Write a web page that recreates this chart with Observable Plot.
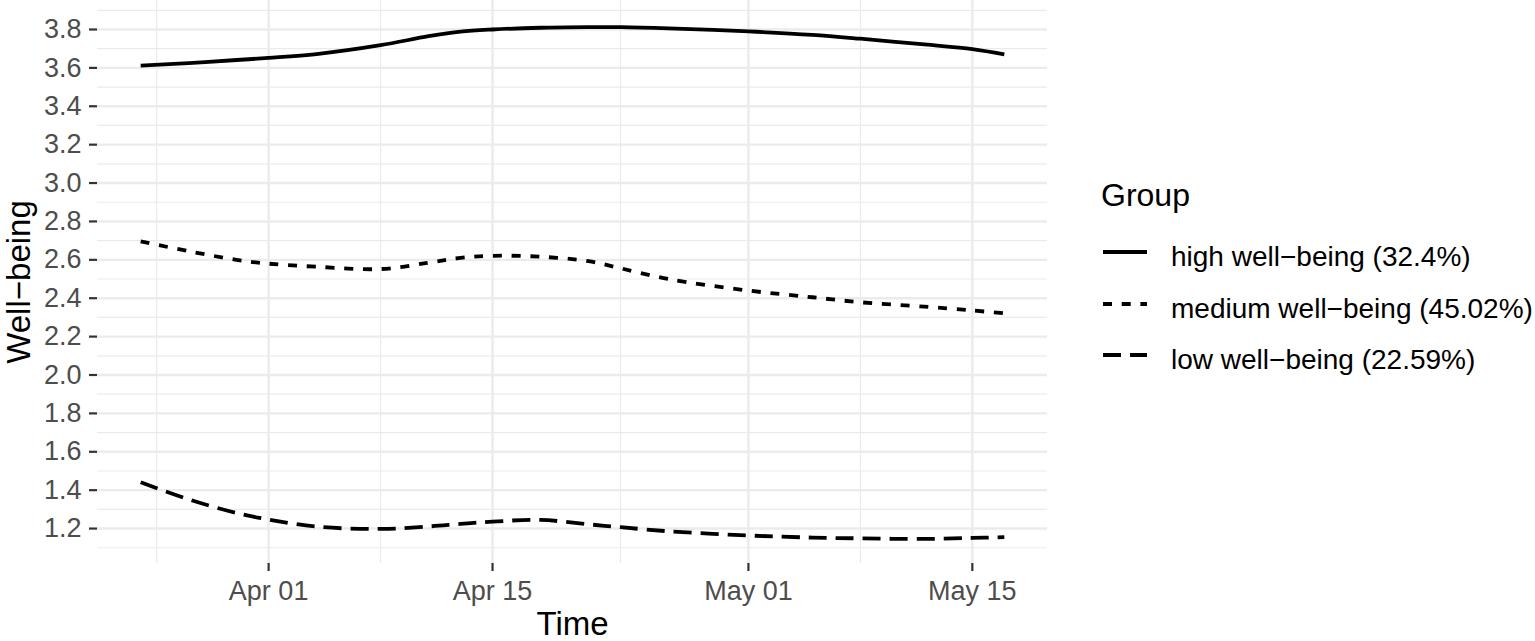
<!DOCTYPE html>
<html>
<head>
<meta charset="utf-8">
<script src="https://cdn.jsdelivr.net/npm/d3@7"></script>
<script src="https://cdn.jsdelivr.net/npm/@observablehq/plot@0.6"></script>
<style>
  body { margin: 0; background: #fff; font-family: "Liberation Sans", Arial, Helvetica, sans-serif; }
  #wrap { position: relative; width: 1535px; height: 641px; overflow: hidden; }
  #chart { position: absolute; left: 0; top: 0; }
  #legend { position: absolute; left: 1101px; top: 179px; }
  #legend .title { font-size: 32px; line-height: 1; color: #000; margin-left: 0; }
  #legend .row { display: flex; align-items: center; height: 51.7px; }
  #legend .row svg { margin-left: 2px; }
  #legend .row span { margin-left: 24px; font-size: 28px; line-height: 1; color: #000; white-space: nowrap; position: relative; top: 5px; }
  svg g[aria-label="y-axis tick label"] text, svg g[aria-label="x-axis tick label"] text { fill: #4d4d4d; }
  svg g[aria-label="y-axis label"] text, svg g[aria-label="x-axis label"] text { fill: #000; font-size: 33px; }
</style>
</head>
<body>
<div id="wrap"><div id="chart"></div><div id="legend"></div></div>
<script>
// ---- data ----
const dates = ["2020-03-24","2020-03-27","2020-03-30","2020-04-01","2020-04-04","2020-04-08","2020-04-11","2020-04-13","2020-04-15","2020-04-18","2020-04-21","2020-04-23","2020-04-26","2020-05-01","2020-05-05","2020-05-08","2020-05-12","2020-05-15","2020-05-17"];
const highWB   = [3.612,3.625,3.641,3.652,3.672,3.718,3.765,3.789,3.800,3.809,3.812,3.812,3.806,3.790,3.772,3.752,3.722,3.698,3.670];
const mediumWB = [2.696,2.645,2.600,2.580,2.564,2.552,2.585,2.610,2.621,2.616,2.593,2.556,2.500,2.440,2.405,2.379,2.356,2.336,2.322];
const lowWB    = [1.441,1.352,1.281,1.247,1.210,1.198,1.211,1.224,1.236,1.245,1.222,1.207,1.186,1.164,1.153,1.149,1.146,1.151,1.155];
const groups   = ["high well−being (32.4%)", "medium well−being (45.02%)", "low well−being (22.59%)"];
const dashes   = ["none", "9,9.7", "18,9"];
const yMajorTicks = [1.2,1.4,1.6,1.8,2.0,2.2,2.4,2.6,2.8,3.0,3.2,3.4,3.6,3.8];
const yMinorTicks = [1.1,1.3,1.5,1.7,1.9,2.1,2.3,2.5,2.7,2.9,3.1,3.3,3.5,3.7,3.9];
const xMajorTicks = ["2020-04-01","2020-04-15","2020-05-01","2020-05-15"];
const xMinorTicks = ["2020-03-25","2020-04-08","2020-04-23","2020-05-08"];
const xLabel = "Time";
const yLabel = "Well−being";
const legendTitle = "Group";

// ---- build ----
const parse = d3.utcParse("%Y-%m-%d");
const series = [highWB, mediumWB, lowWB];
const tables = series.map((vals, i) => dates.map((d, j) => ({date: parse(d), value: vals[j], group: groups[i]})));
const xMaj = xMajorTicks.map(parse), xMin = xMinorTicks.map(parse);

const xExt = d3.extent(dates.map(parse));
const xPad = (xExt[1] - xExt[0]) * 0.05;
const xDomain = [new Date(+xExt[0] - xPad), new Date(+xExt[1] + xPad)];

const gridColor = "#ebebeb";
const lineWidth = 3.8;
const chart = Plot.plot({
  width: 1060,
  height: 641,
  marginLeft: 97,
  marginRight: 13,
  marginTop: 0,
  marginBottom: 78,
  style: {fontFamily: '"Liberation Sans", Arial, Helvetica, sans-serif', background: "#fff", color: "#333", overflow: "visible"},
  x: {type: "utc", domain: xDomain},
  y: {domain: [1.018, 3.951]},
  marks: [
    Plot.gridY(yMinorTicks, {stroke: gridColor, strokeOpacity: 1, strokeWidth: 1.2}),
    Plot.gridX(xMin, {stroke: gridColor, strokeOpacity: 1, strokeWidth: 1.2}),
    Plot.gridY(yMajorTicks, {stroke: gridColor, strokeOpacity: 1, strokeWidth: 2.4}),
    Plot.gridX(xMaj, {stroke: gridColor, strokeOpacity: 1, strokeWidth: 2.4}),
    Plot.axisY(yMajorTicks, {tickSize: 8, tickPadding: 8, fontSize: 27, strokeWidth: 2.2, tickFormat: d3.format(".1f"),
      label: yLabel, labelAnchor: "center", labelOffset: 91, labelArrow: "none"}),
    Plot.axisX(xMaj, {tickSize: 8, tickPadding: 9, fontSize: 27, strokeWidth: 2.2, tickFormat: d3.utcFormat("%b %d"),
      label: xLabel, labelAnchor: "center", labelOffset: 71, labelArrow: "none"}),
    ...tables.map((t, i) => Plot.line(t, {x: "date", y: "value", stroke: "#000", strokeWidth: lineWidth,
      strokeDasharray: dashes[i], strokeLinecap: "butt", curve: "catmull-rom"}))
  ]
});
document.getElementById("chart").appendChild(chart);

// ---- legend ----
const leg = document.getElementById("legend");
const t = document.createElement("div");
t.className = "title"; t.textContent = legendTitle; leg.appendChild(t);
const spacer = document.createElement("div"); spacer.style.height = "15px"; leg.appendChild(spacer);
groups.forEach((g, i) => {
  const row = document.createElement("div"); row.className = "row";
  row.innerHTML = `<svg width="44" height="10"><line x1="0" x2="44" y1="5" y2="5" stroke="#000" stroke-width="${lineWidth}" stroke-dasharray="${dashes[i]}"></line></svg><span></span>`;
  row.querySelector("span").textContent = g;
  leg.appendChild(row);
});
</script>
</body>
</html>
